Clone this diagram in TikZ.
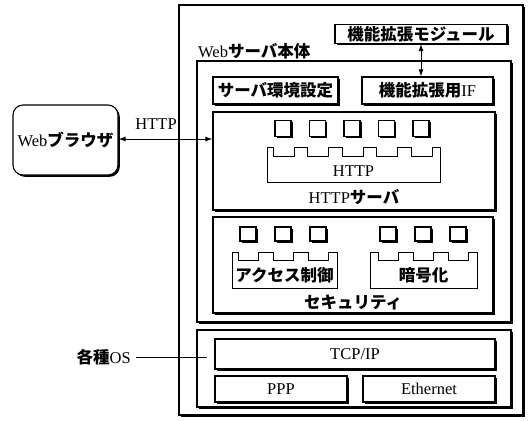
\documentclass[tikz,border=0pt]{standalone}
\usepackage{fontspec}
\setmainfont{Liberation Serif}
\newfontfamily\cjk{Noto Sans CJK JP}
\usetikzlibrary{shadows,arrows.meta}
\newcommand{\J}[1]{{\cjk\bfseries #1}}
\begin{document}
\begin{tikzpicture}[x=1pt,y=-1pt,
  font=\fontsize{16.5}{16.5}\selectfont,
  box/.style={draw, line width=1.1pt, fill=white, inner sep=0pt,
    drop shadow={shadow xshift=1.8pt, shadow yshift=-1.8pt, opacity=1, fill=black}},
  sq/.style={box, minimum width=16pt, minimum height=16pt},
  ssq/.style={box, minimum width=16pt, minimum height=14pt},
  comb/.style={draw, line width=1pt, fill=white},
  lbl/.style={inner sep=0pt},
  link/.style={line width=1pt, {Latex[length=7pt,width=5pt]}-{Latex[length=7pt,width=5pt]}}
]
\useasboundingbox (0,0) rectangle (529,420);
% containers
\node[box, minimum width=344pt, minimum height=410pt] (outer) at (351,210) {};
\node[box, minimum width=314pt, minimum height=261pt] (body) at (354,191.5) {};
\node[lbl, anchor=west] (bodylbl) at (198,51) {Web\J{サーバ本体}};
\node[box, minimum width=172pt, minimum height=19pt] (ext) at (421,34) {\J{機能拡張モジュール}};
\node[box, minimum width=131pt, minimum height=27pt] (extif) at (427.5,90.5) {\J{機能拡張用}IF};
\node[box, minimum width=125pt, minimum height=27pt] (env) at (275.5,90.5) {\J{サーバ環境設定}};
% HTTP server
\node[box, minimum width=282pt, minimum height=98pt] (hsrv) at (354,161) {};
\foreach \c [count=\i] in {283,317.5,352,386.5,421}
  \node[sq] (hs\i) at (\c,128.5) {};
\draw[comb] (267,182) -- (267,147) -- (273,147) -- (273,156) -- (294,156) -- (294,147)
  -- (307.5,147) -- (307.5,156) -- (328.5,156) -- (328.5,147)
  -- (342,147) -- (342,156) -- (363,156) -- (363,147)
  -- (376.5,147) -- (376.5,156) -- (397.5,156) -- (397.5,147)
  -- (411,147) -- (411,156) -- (432,156) -- (432,147)
  -- (440,147) -- (440,182) -- cycle;
\node[lbl] (httpmod) at (353.5,171) {HTTP};
\node[lbl] (hsrvlbl) at (354,197) {HTTP\J{サーバ}};
% security
\node[box, minimum width=280pt, minimum height=96pt] (sec) at (353,265) {};
\foreach \c [count=\i] in {248,283,318}
  \node[ssq] (ls\i) at (\c,234) {};
\foreach \c [count=\i] in {388,423,458}
  \node[ssq] (rs\i) at (\c,234) {};
\draw[comb] (232,288) -- (232,252) -- (238,252) -- (238,260) -- (258,260) -- (258,252)
  -- (273,252) -- (273,260) -- (293,260) -- (293,252)
  -- (308,252) -- (308,260) -- (328,260) -- (328,252)
  -- (337,252) -- (337,288) -- cycle;
\draw[comb] (370,288) -- (370,252) -- (378,252) -- (378,260) -- (398,260) -- (398,252)
  -- (413,252) -- (413,260) -- (433,260) -- (433,252)
  -- (448,252) -- (448,260) -- (468,260) -- (468,252)
  -- (477,252) -- (477,288) -- cycle;
\node[lbl] (acl) at (284.5,275) {\J{アクセス制御}};
\node[lbl] (crypt) at (423.5,275) {\J{暗号化}};
\node[lbl] (seclbl) at (353,302) {\J{セキュリティ}};
% OS
\node[box, minimum width=314pt, minimum height=77pt] (os) at (354,368.5) {};
\node[box, minimum width=280pt, minimum height=30pt] (tcp) at (355,354) {TCP/IP};
\node[box, minimum width=132pt, minimum height=26pt] (ppp) at (281,389) {PPP};
\node[box, minimum width=132pt, minimum height=26pt] (eth) at (429,389) {Ethernet};
% browser
\node[box, rounded corners=10pt, minimum width=105pt, minimum height=70pt] (browser) at (65.5,140) {Web\J{ブラウザ}};
\draw[link] (browser.east |- 0,139) -- (hsrv.west |- 0,139)
  node[pos=0.4, above=9pt, lbl] (httplbl) {HTTP};
\draw[link] (ext.south) -- (ext.south |- extif.north);
% various OS
\node[lbl, anchor=east] (oslbl) at (131,357) {\J{各種}OS};
\coordinate (osend) at (207,357);
\draw[line width=0.6pt] (oslbl.east) ++(5,0) -- (osend);
\end{tikzpicture}
\end{document}
